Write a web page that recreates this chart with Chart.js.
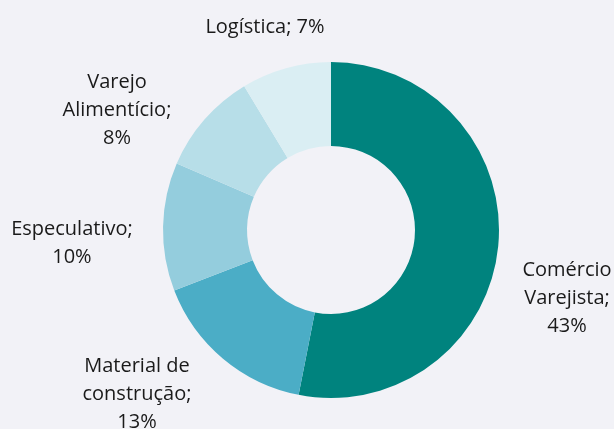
<!DOCTYPE html>
<html>
<head>
<meta charset="utf-8">
<script src="https://cdn.jsdelivr.net/npm/chart.js@4"></script>
<style>
  html, body { margin: 0; padding: 0; background: #F2F2F7; }
  #wrap { width: 614px; height: 429px; position: relative; }
</style>
</head>
<body>
<div id="wrap"><canvas id="c" width="614" height="429"></canvas></div>
<script>
const categories = ["Comércio Varejista", "Material de construção", "Especulativo", "Varejo Alimentício", "Logística"];
const values = [43, 13, 10, 8, 7];
const labelLines = [
  ["Comércio", "Varejista;", "43%"],
  ["Material de", "construção;", "13%"],
  ["Especulativo;", "10%"],
  ["Varejo", "Alimentício;", "8%"],
  ["Logística; 7%"]
];
const colors = ["#00837E", "#4BADC6", "#94CDDD", "#B7DEE8", "#DAEEF3"];

// label block centres relative to the arc centre, in units of the outer radius
const labelOffsets = [[1.405, 0.405], [-1.155, 0.976], [-1.542, 0.077], [-1.274, -0.714], [-0.393, -1.208]];

const outsideLabels = {
  id: 'outsideLabels',
  afterDatasetsDraw(chart) {
    const ctx = chart.ctx;
    const meta = chart.getDatasetMeta(0);
    ctx.save();
    ctx.font = '20px "Open Sans"';
    ctx.fillStyle = '#1A1A1A';
    ctx.textAlign = 'center';
    ctx.textBaseline = 'middle';
    const lh = 28;
    meta.data.forEach((arc, i) => {
      const p = arc.getProps(['x', 'y', 'outerRadius'], true);
      const cx = p.x + labelOffsets[i][0] * p.outerRadius;
      const cy = p.y + labelOffsets[i][1] * p.outerRadius;
      const lines = labelLines[i];
      const top = cy - (lines.length - 1) * lh / 2;
      lines.forEach((t, k) => ctx.fillText(t, cx, top + k * lh));
    });
    ctx.restore();
  }
};

const bg = {
  id: 'bg',
  beforeDraw(chart) {
    const ctx = chart.ctx;
    ctx.save();
    ctx.fillStyle = '#F2F2F7';
    ctx.fillRect(0, 0, chart.width, chart.height);
    ctx.restore();
  }
};

new Chart(document.getElementById('c'), {
  type: 'doughnut',
  data: {
    labels: categories,
    datasets: [{
      data: values,
      backgroundColor: colors,
      borderWidth: 0
    }]
  },
  options: {
    responsive: false,
    animation: false,
    cutout: '50%',
    layout: { padding: { left: 163, right: 115, top: 62, bottom: 31 } },
    plugins: {
      legend: { display: false },
      tooltip: { enabled: false }
    }
  },
  plugins: [bg, outsideLabels]
});
</script>
</body>
</html>
